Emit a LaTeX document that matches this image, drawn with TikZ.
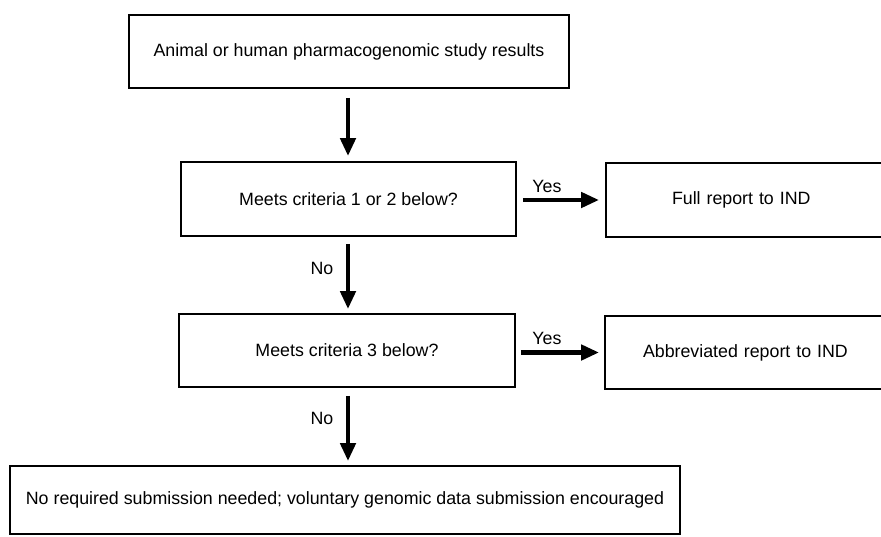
\documentclass[tikz,border=0pt]{standalone}
\usepackage{fontspec}
\setmainfont{Liberation Sans}
\usetikzlibrary{arrows.meta}
\begin{document}
\begin{tikzpicture}[x=1pt,y=-1pt,
  box/.style={draw=black,line width=1.8pt,rectangle,inner sep=0pt,font=\fontsize{17.8}{21}\selectfont},
  lbl/.style={inner sep=0pt,font=\fontsize{17.8}{21}\selectfont},
  arr/.style={line width=4.5pt,-{Triangle[length=18pt,width=15pt]}}]
\useasboundingbox (0,0) rectangle (881,536);
\clip (0,0) rectangle (881,536);
\fill[white] (0,0) rectangle (881,536);
\coordinate (ax) at (348,0);
\node[box,minimum width=440pt,minimum height=73pt] (b1) at (349,51.5) {Animal or human pharmacogenomic study results};
\node[box,minimum width=335pt,minimum height=74pt] (b2) at (348.5,199) {Meets criteria 1 or 2 below?};
\node[box,minimum width=279pt,minimum height=74pt,text width=279pt,align=left] (full) at (745.5,200) {\hspace*{66pt}Full report to IND};
\node[box,minimum width=336pt,minimum height=73pt] (b3) at (347,350.5) {Meets criteria 3 below?};
\node[box,minimum width=280pt,minimum height=73pt,text width=280pt,align=left] (abbr) at (745,352.5) {\hspace*{38pt}Abbreviated report to IND};
\node[box,minimum width=670pt,minimum height=68pt] (b4) at (345,500) {No required submission needed; voluntary genomic data submission encouraged};
\draw[arr] ([yshift=-9pt]b1.south -| ax) -- ([yshift=5pt]b2.north -| ax);
\draw[arr] ([yshift=-7pt]b2.south -| ax) -- ([yshift=4pt]b3.north -| ax);
\draw[arr] ([yshift=-8pt]b3.south -| ax) -- ([yshift=4pt]b4.north -| ax);
\draw[arr] ([xshift=6pt]b2.east |- full.west) -- ([xshift=-6pt]full.west);
\draw[arr] ([xshift=5pt]b3.east |- abbr.west) -- ([xshift=-5pt]abbr.west);
\node[lbl] (y1) at (547,186) {Yes};
\node[lbl] (y2) at (547,338) {Yes};
\node[lbl] (n1) at (322,268) {No};
\node[lbl] (n2) at (322,418) {No};
\end{tikzpicture}
\end{document}
